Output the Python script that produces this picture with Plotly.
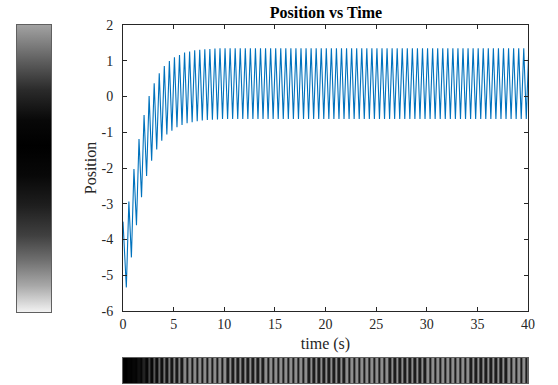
import plotly.graph_objects as go

# ---- data ----
start_time = [0.0]
start_value = [-3.5]

trough_times = [
    0.33, 0.83, 1.33, 1.83, 2.33, 2.83, 3.33, 3.83, 4.33, 4.83,
    5.33, 5.83, 6.33, 6.83, 7.33, 7.83, 8.33, 8.83, 9.33, 9.83,
    10.33, 10.83, 11.33, 11.83, 12.33, 12.83, 13.33, 13.83, 14.33, 14.83,
    15.33, 15.83, 16.33, 16.83, 17.33, 17.83, 18.33, 18.83, 19.33, 19.83,
    20.33, 20.83, 21.33, 21.83, 22.33, 22.83, 23.33, 23.83, 24.33, 24.83,
    25.33, 25.83, 26.33, 26.83, 27.33, 27.83, 28.33, 28.83, 29.33, 29.83,
    30.33, 30.83, 31.33, 31.83, 32.33, 32.83, 33.33, 33.83, 34.33, 34.83,
    35.33, 35.83, 36.33, 36.83, 37.33, 37.83, 38.33, 38.83, 39.33, 39.83,
]
trough_values = [
    -5.34, -4.50, -3.60, -2.82, -2.22, -1.80, -1.48, -1.24, -1.06, -0.96,
    -0.86, -0.80, -0.75, -0.72, -0.69, -0.67, -0.66, -0.65, -0.64, -0.63,
    -0.63, -0.63, -0.63, -0.63, -0.63, -0.63, -0.63, -0.63, -0.63, -0.63,
    -0.63, -0.63, -0.63, -0.63, -0.63, -0.63, -0.63, -0.63, -0.63, -0.63,
    -0.63, -0.63, -0.63, -0.63, -0.63, -0.63, -0.63, -0.63, -0.63, -0.63,
    -0.63, -0.63, -0.63, -0.63, -0.63, -0.63, -0.63, -0.63, -0.63, -0.63,
    -0.63, -0.63, -0.63, -0.63, -0.63, -0.63, -0.63, -0.63, -0.63, -0.63,
    -0.63, -0.63, -0.63, -0.63, -0.63, -0.63, -0.63, -0.63, -0.63, -0.63,
]
peak_times = [
    0.58, 1.08, 1.58, 2.08, 2.58, 3.08, 3.58, 4.08, 4.58, 5.08,
    5.58, 6.08, 6.58, 7.08, 7.58, 8.08, 8.58, 9.08, 9.58, 10.08,
    10.58, 11.08, 11.58, 12.08, 12.58, 13.08, 13.58, 14.08, 14.58, 15.08,
    15.58, 16.08, 16.58, 17.08, 17.58, 18.08, 18.58, 19.08, 19.58, 20.08,
    20.58, 21.08, 21.58, 22.08, 22.58, 23.08, 23.58, 24.08, 24.58, 25.08,
    25.58, 26.08, 26.58, 27.08, 27.58, 28.08, 28.58, 29.08, 29.58, 30.08,
    30.58, 31.08, 31.58, 32.08, 32.58, 33.08, 33.58, 34.08, 34.58, 35.08,
    35.58, 36.08, 36.58, 37.08, 37.58, 38.08, 38.58, 39.08, 39.58, 40.08,
]
peak_values = [
    -2.94, -2.03, -1.19, -0.52, 0.01, 0.37, 0.65, 0.85, 0.99, 1.10,
    1.16, 1.23, 1.26, 1.29, 1.31, 1.32, 1.33, 1.34, 1.35, 1.35,
    1.35, 1.35, 1.35, 1.35, 1.35, 1.35, 1.35, 1.35, 1.35, 1.35,
    1.35, 1.35, 1.35, 1.35, 1.35, 1.35, 1.35, 1.35, 1.35, 1.35,
    1.35, 1.35, 1.35, 1.35, 1.35, 1.35, 1.35, 1.35, 1.35, 1.35,
    1.35, 1.35, 1.35, 1.35, 1.35, 1.35, 1.35, 1.35, 1.35, 1.35,
    1.35, 1.35, 1.35, 1.35, 1.35, 1.35, 1.35, 1.35, 1.35, 1.35,
    1.35, 1.35, 1.35, 1.35, 1.35, 1.35, 1.35, 1.35, 1.35, 1.35,
]

x_ticks = [0, 5, 10, 15, 20, 25, 30, 35, 40]
x_tick_labels = ["0", "5", "10", "15", "20", "25", "30", "35", "40"]
y_ticks = [-6, -5, -4, -3, -2, -1, 0, 1, 2]
y_tick_labels = ["-6", "-5", "-4", "-3", "-2", "-1", "0", "1", "2"]

# vertical gray strip: gray level read at positions along the position axis
strip_positions = [-6.0, -5.27, -4.57, -3.87, -3.03, -2.20, -1.36, -0.66, 0.18, 1.02, 2.0]
strip_grays = ["#f2f2f2", "#a8a8a8", "#707070", "#404040", "#1e1e1e",
               "#080808", "#000000", "#080808", "#2a2a2a", "#606060", "#a2a2a2"]

# ---- assemble series ----
times = list(start_time)
values = list(start_value)
for tt, tv, pt, pv in zip(trough_times, trough_values, peak_times, peak_values):
    times += [tt, pt]
    values += [tv, pv]

W, H = 558, 385
def fx(px):
    return px / W
def fy(py):
    return 1 - py / H

FONT = "Liberation Serif"
AX = "#262626"

fig = go.Figure()

fig.add_trace(go.Scatter(
    x=times, y=values, mode="lines",
    line=dict(color="#0072BD", width=1.1),
    xaxis="x", yaxis="y", showlegend=False, hoverinfo="skip",
))

# vertical gray strip drawn as a gradient-filled box spanning the position range
lo, hi = strip_positions[0], strip_positions[-1]
left_scale = [[(p - lo) / (hi - lo), c] for p, c in zip(strip_positions, strip_grays)]
fig.add_trace(go.Scatter(
    x=[0, 1, 1, 0, 0], y=[lo, lo, hi, hi, lo],
    mode="lines", line=dict(width=0), fill="toself",
    fillgradient=dict(type="vertical", colorscale=left_scale, start=lo, stop=hi),
    xaxis="x2", yaxis="y2", showlegend=False, hoverinfo="skip",
))

# horizontal gray strip (position shown as gray level over time)
bottom_scale = [[0.0, "#000000"], [0.55, "#080808"], [0.707, "#1c1c1c"], [1.0, "#8e8e8e"]]
fig.add_trace(go.Heatmap(
    x=times, y=[0], z=[values],
    colorscale=bottom_scale, zmin=-5.4, zmax=1.35,
    showscale=False, xaxis="x3", yaxis="y3", hoverinfo="skip",
))

tickfont = dict(family=FONT, size=14, color="#262626")
labfont = dict(family=FONT, size=16, color="#262626")
plain = dict(showticklabels=False, ticks="", showgrid=False, zeroline=False,
             showline=True, linecolor="#606060", linewidth=1, mirror=True,
             automargin=False)

fig.update_layout(
    width=W, height=H,
    margin=dict(l=0, r=0, t=0, b=0, pad=0, autoexpand=False),
    paper_bgcolor="white", plot_bgcolor="white",
    showlegend=False,
    title=dict(text="<b>Position vs Time</b>", x=fx(326), xanchor="center",
               y=fy(12), yanchor="middle",
               font=dict(family=FONT, size=16, color="#000000")),
    xaxis=dict(
        domain=[fx(123), fx(528)], range=[0, 40],
        tickvals=x_ticks, ticktext=x_tick_labels,
        ticks="inside", ticklen=4, tickcolor=AX, tickwidth=1,
        showline=True, linecolor=AX, linewidth=1, mirror="ticks",
        showgrid=False, zeroline=False, tickfont=tickfont, automargin=False,
        title=dict(text="time (s)", font=labfont, standoff=7),
        anchor="y",
    ),
    yaxis=dict(
        domain=[fy(311), fy(25)], range=[-6, 2],
        tickvals=y_ticks, ticktext=y_tick_labels,
        ticks="inside", ticklen=4, tickcolor=AX, tickwidth=1,
        showline=True, linecolor=AX, linewidth=1, mirror="ticks",
        showgrid=False, zeroline=False, tickfont=tickfont, automargin=False,
        ticklabelstandoff=6,
        title=dict(text="Position", font=labfont, standoff=0),
        anchor="x",
    ),
    xaxis2=dict(domain=[fx(17), fx(51)], range=[0, 1], anchor="y2", **plain),
    yaxis2=dict(domain=[fy(312), fy(25)], range=[-6, 2], anchor="x2", **plain),
    xaxis3=dict(domain=[fx(123), fx(528)], range=[0, 40], anchor="y3", **plain),
    yaxis3=dict(domain=[fy(383), fy(358)], range=[-0.5, 0.5], anchor="x3", **plain),
)

fig.write_html("out.html")
